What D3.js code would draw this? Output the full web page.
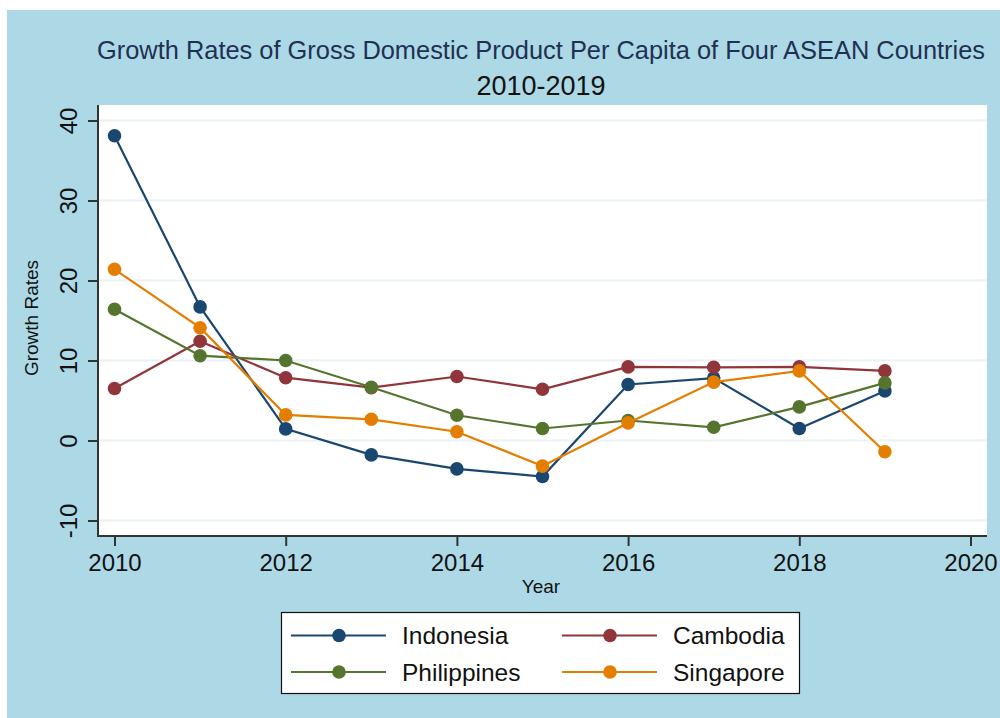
<!DOCTYPE html>
<html>
<head>
<meta charset="utf-8">
<script src="https://cdn.jsdelivr.net/npm/d3@7"></script>
<style>
  body { margin: 0; background: #ffffff; }
  svg text { font-family: "Liberation Sans", Arial, sans-serif; }
</style>
</head>
<body>
<svg id="chart" width="1000" height="718"></svg>
<script>
const years = [2010, 2011, 2012, 2013, 2014, 2015, 2016, 2017, 2018, 2019]
const indonesia   = [38.1, 16.7, 1.45, -1.8, -3.55, -4.5, 7.0, 7.8, 1.5, 6.2]
const cambodia    = [6.5, 12.4, 7.85, 6.6, 8.0, 6.4, 9.2, 9.15, 9.2, 8.7]
const philippines = [16.4, 10.6, 10.0, 6.65, 3.15, 1.5, 2.5, 1.65, 4.2, 7.2]
const singapore   = [21.4, 14.1, 3.2, 2.65, 1.1, -3.2, 2.2, 7.3, 8.7, -1.4]
const xTicks = [2010, 2012, 2014, 2016, 2018, 2020]
const yTicks = [-10, 0, 10, 20, 30, 40]

const series = [
    {name: "Indonesia", values: indonesia, color: "#1a476f"},
    {name: "Cambodia", values: cambodia, color: "#90353b"},
    {name: "Philippines", values: philippines, color: "#55752f"},
    {name: "Singapore", values: singapore, color: "#e37e00"}
]

const svg = d3.select("#chart")

// outer graph region
svg.append("rect")
    .attr("x", 7).attr("y", 10)
    .attr("width", 993).attr("height", 708)
    .attr("fill", "#add8e6")

const plot = {left: 98, right: 987, top: 105, bottom: 536}

svg.append("rect")
    .attr("x", plot.left).attr("y", plot.top)
    .attr("width", plot.right - plot.left).attr("height", plot.bottom - plot.top)
    .attr("fill", "white")

const x = d3.scaleLinear().domain([2010, 2020]).range([114.5, 970.5])
const y = d3.scaleLinear().domain([0, 40]).range([440.5, 120.5])

// grid
svg.append("g").selectAll("line")
    .data(yTicks)
    .enter()
    .append("line")
    .attr("x1", plot.left).attr("x2", plot.right)
    .attr("y1", (d) => y(d)).attr("y2", (d) => y(d))
    .style("stroke", "#eaf2f3")
    .style("stroke-width", "2px")

// y axis
const yAxis = svg.append("g")
    .attr("transform", "translate(" + plot.left + ",0)")
    .call(d3.axisLeft(y).tickValues(yTicks).tickFormat((d) => String(d)).tickSize(10).tickSizeOuter(0).tickPadding(0))
yAxis.select(".domain").remove()
yAxis.append("line")
    .attr("x1", 0).attr("x2", 0)
    .attr("y1", plot.top).attr("y2", plot.bottom + 1)
    .style("stroke", "#333").style("stroke-width", "2px")
yAxis.selectAll(".tick line").style("stroke", "#333").style("stroke-width", "2px")
yAxis.selectAll(".tick text")
    .attr("x", 0).attr("dy", 0)
    .attr("transform", "translate(-21,0) rotate(-90)")
    .attr("text-anchor", "middle")
    .style("font-size", "24px")
    .style("fill", "#111")

// x axis
const xAxis = svg.append("g")
    .attr("transform", "translate(0," + plot.bottom + ")")
    .call(d3.axisBottom(x).tickValues(xTicks).tickFormat((d) => String(d)).tickSize(10).tickSizeOuter(0).tickPadding(8))
xAxis.select(".domain").remove()
xAxis.append("line")
    .attr("x1", plot.left - 1).attr("x2", plot.right)
    .attr("y1", 0).attr("y2", 0)
    .style("stroke", "#333").style("stroke-width", "2px")
xAxis.selectAll(".tick line").style("stroke", "#333").style("stroke-width", "2px")
xAxis.selectAll(".tick text")
    .style("font-size", "24px")
    .style("fill", "#111")

// axis titles
svg.append("text")
    .attr("transform", "translate(38,318) rotate(-90)")
    .attr("text-anchor", "middle")
    .style("font-size", "19px")
    .style("fill", "#111")
    .text("Growth Rates")
svg.append("text")
    .attr("x", 541).attr("y", 593)
    .attr("text-anchor", "middle")
    .style("font-size", "19px")
    .style("fill", "#111")
    .text("Year")

// titles
svg.append("text")
    .attr("x", 541).attr("y", 59)
    .attr("text-anchor", "middle")
    .attr("textLength", 888)
    .attr("lengthAdjust", "spacingAndGlyphs")
    .style("font-size", "25px")
    .style("fill", "#1f3152")
    .text("Growth Rates of Gross Domestic Product Per Capita of Four ASEAN Countries")
svg.append("text")
    .attr("x", 541).attr("y", 95)
    .attr("text-anchor", "middle")
    .style("font-size", "27px")
    .style("fill", "#111")
    .text("2010-2019")

// lines and markers
const line = d3.line()
    .x((d, i) => x(years[i]))
    .y((d) => y(d))

const sg = svg.selectAll(".series")
    .data(series)
    .enter()
    .append("g")
    .attr("class", "series")

sg.append("path")
    .attr("d", (d) => line(d.values))
    .attr("fill", "none")
    .style("stroke", (d) => d.color)
    .style("stroke-width", "2.2px")

sg.selectAll("circle")
    .data((d) => d.values.map((v, i) => ({v: v, year: years[i], color: d.color})))
    .enter()
    .append("circle")
    .attr("cx", (d) => x(d.year))
    .attr("cy", (d) => y(d.v))
    .attr("r", 6.8)
    .attr("fill", (d) => d.color)

// legend
svg.append("rect")
    .attr("x", 281.5).attr("y", 612.5)
    .attr("width", 518).attr("height", 81)
    .attr("fill", "white")
    .style("stroke", "#111")
    .style("stroke-width", "1.2px")

const lg = svg.selectAll(".legendItem")
    .data(series)
    .enter()
    .append("g")
    .attr("class", "legendItem")
    .attr("transform", (d, i) => "translate(" + (i % 2 === 0 ? 291 : 562) + "," + (i < 2 ? 635.5 : 672) + ")")
lg.append("line")
    .attr("x1", 0).attr("x2", 95)
    .attr("y1", 0).attr("y2", 0)
    .style("stroke", (d) => d.color)
    .style("stroke-width", "2.2px")
lg.append("circle")
    .attr("cx", 48).attr("cy", 0).attr("r", 6.8)
    .attr("fill", (d) => d.color)
lg.append("text")
    .attr("x", 111).attr("y", 8.5)
    .style("font-size", "24.5px")
    .style("fill", "#111")
    .text((d) => d.name)
</script>
</body>
</html>
